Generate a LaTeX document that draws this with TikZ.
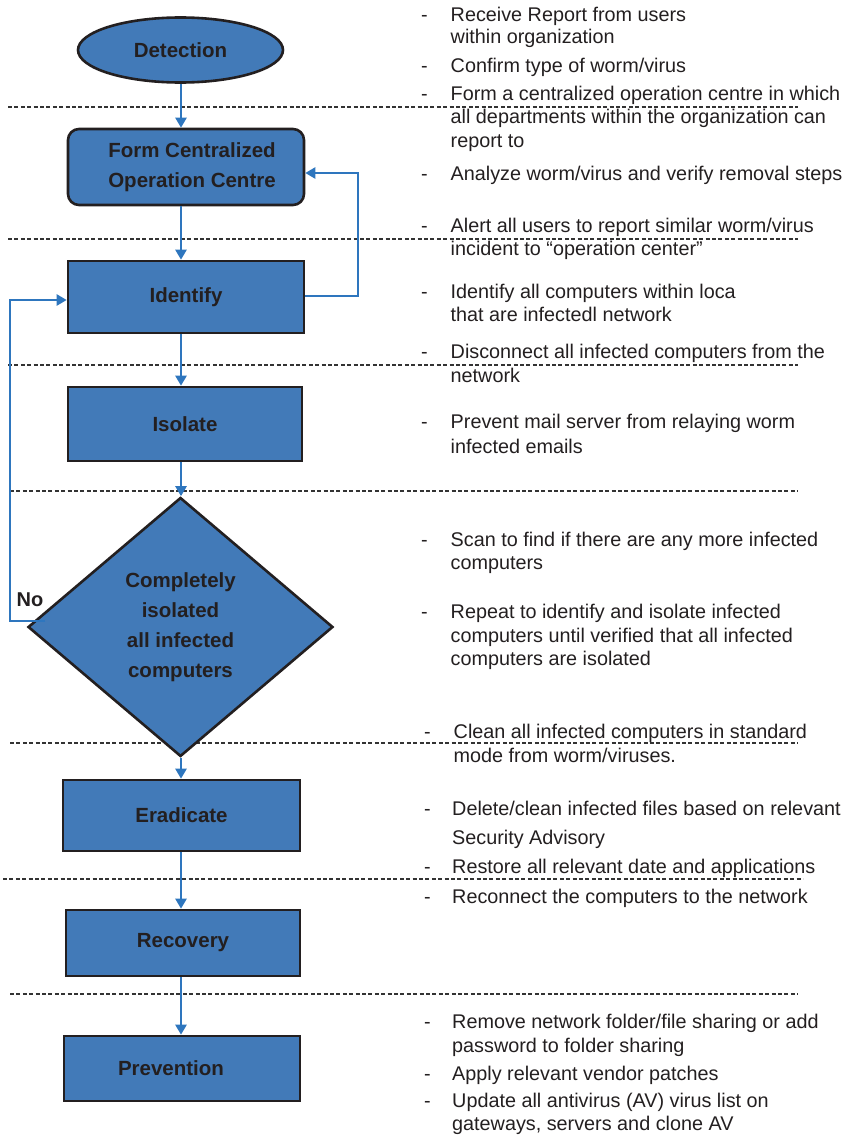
\documentclass[tikz,border=0pt]{standalone}
\usepackage{fontspec}
\setmainfont{Liberation Sans}
\usetikzlibrary{shapes.geometric,arrows.meta}
\definecolor{boxblue}{RGB}{66,122,184}
\definecolor{arrblue}{RGB}{46,118,190}
\definecolor{ink}{RGB}{35,31,32}
\begin{document}
\begin{tikzpicture}[x=1pt,y=-1pt,
  blk/.style={draw=ink,line width=2.6pt,fill=boxblue,font=\fontsize{20.5}{30}\selectfont\bfseries,text=ink,align=center,inner sep=0pt},
  arr/.style={draw=arrblue,line width=2.4pt,-{Triangle[length=10pt,width=11pt]}},
  sep/.style={draw=black!80,line width=1.1pt,dash pattern=on 4pt off 2.4pt},
  txt/.style={anchor=base west,font=\fontsize{19.8}{22}\selectfont,text=ink,inner sep=0pt},
  lbl/.style={font=\fontsize{20}{24}\selectfont\bfseries,text=ink,inner sep=0pt}
]
\useasboundingbox (0,0) rectangle (847,1135);

% separators
\foreach \y/\a/\b in {107/8/798, 239/8/798, 365/8/798, 491/10/798, 743/10/798, 879/3/803, 994/10/798}
  \draw[sep] (\a,\y) -- (\b,\y);

% flow nodes
\node[blk,ellipse,minimum width=205pt,minimum height=65pt] (det) at (180.5,50) {Detection};
\node[blk,rectangle,rounded corners=11pt,minimum width=236pt,minimum height=76pt] (form) at (186,167) {\hspace*{12pt}Form Centralized\\\hspace*{12pt}Operation Centre};
\node[blk,rectangle,minimum width=236pt,minimum height=72pt] (id) at (186,297) {Identify};
\node[blk,rectangle,minimum width=234pt,minimum height=74pt] (iso) at (185,424) {Isolate};
\node[blk,diamond,minimum width=305pt,minimum height=259pt] (dia) at (180.5,627) {Completely\\isolated\\all infected\\computers};
\node[blk,rectangle,minimum width=237pt,minimum height=71pt] (era) at (181.5,815.5) {Eradicate};
\node[blk,rectangle,minimum width=234pt,minimum height=66pt] (rec) at (183,943) {Recovery};
\node[blk,rectangle,minimum width=236pt,minimum height=65pt] (prev) at (182,1068.5) {\hspace*{-22pt}Prevention};
\node[lbl] (no) at (30,600) {No};

% main arrows
\coordinate (col) at (181,0);
\draw[arr] (col |- det.south) -- (col |- form.north);
\draw[arr] (col |- form.south) -- (col |- id.north);
\draw[arr] (col |- id.south) -- (col |- iso.north);
\draw[arr] (col |- iso.south) -- (col |- dia.north);
\draw[arr] (col |- dia.south) -- (col |- era.north);
\draw[arr] (col |- era.south) -- (col |- rec.north);
\draw[arr] (col |- rec.south) -- (col |- prev.north);

% feedback loops
\coordinate (fb1) at (358,296);
\coordinate (fb2) at (358,173);
\draw[arr] (id.east |- fb1) -- (fb1) -- (fb2) -- (form.east |- fb2);
\coordinate (n0) at (45,621);
\coordinate (n1) at (10,621);
\coordinate (n2) at (10,300);
\draw[arr] (n0) -- (n1) -- (n2) -- (id.west |- n2);

% right-hand notes: dashes
\foreach [count=\i] \y/\x in {21/421, 72/421, 100/421, 180/421, 232/421, 298/421, 358/421, 428/421, 546/421, 618/421, 738/424, 815/424, 873/424, 903/424, 1028/424, 1080/424, 1107/424}
  \node[txt] (d\i) at (\x,\y) {-};

% right-hand notes: text lines
\foreach [count=\i] \y/\x/\t in {
  21/450.5/{Receive Report from users},
  43/450.5/{within organization},
  72/450.5/{Confirm type of worm/virus},
  100/450.5/{Form a centralized operation centre in which},
  123/450.5/{all departments within the organization can},
  147/450.5/{report to},
  180/450.5/{Analyze worm/virus and verify removal steps},
  232/450.5/{Alert all users to report similar worm/virus},
  255/450.5/{incident to “operation center”},
  298/450.5/{Identify all computers within loca},
  321/450.5/{that are infectedl network},
  358/450.5/{Disconnect all infected computers from the},
  382/450.5/{network},
  428/450.5/{Prevent mail server from relaying worm},
  453/450.5/{infected emails},
  546/450.5/{Scan to find if there are any more infected},
  569/450.5/{computers},
  618/450.5/{Repeat to identify and isolate infected},
  642/450.5/{computers until verified that all infected},
  665/450.5/{computers are isolated},
  738/453.5/{Clean all infected computers in standard},
  762/453.5/{mode from worm/viruses.},
  815/452/{Delete/clean infected files based on relevant},
  844/452/{Security Advisory},
  873/452/{Restore all relevant date and applications},
  903/452/{Reconnect the computers to the network},
  1028/452/{Remove network folder/file sharing or add},
  1052/452/{password to folder sharing},
  1080/452/{Apply relevant vendor patches},
  1107/452/{Update all antivirus (AV) virus list on},
  1130/452/{gateways, servers and clone AV}}
  \node[txt] (t\i) at (\x,\y) {\t};
\end{tikzpicture}
\end{document}
